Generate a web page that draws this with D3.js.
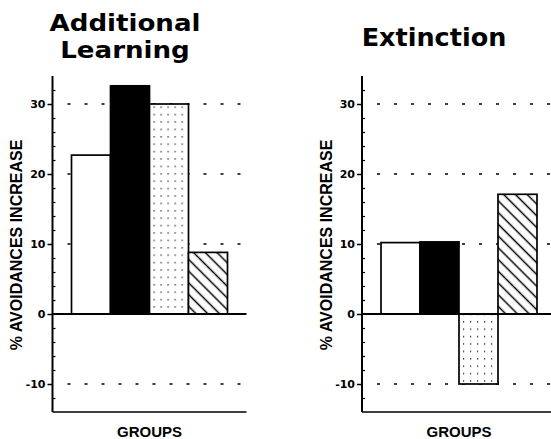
<!DOCTYPE html>
<html>
<head>
<meta charset="utf-8">
<script src="https://cdn.jsdelivr.net/npm/d3@7"></script>
<style>
  html, body { margin: 0; padding: 0; background: #fff; }
  svg { display: block; }
</style>
</head>
<body>
<svg id="chart" width="551" height="439"></svg>
<script>
// ---- data ----
const groups = ["Group 1", "Group 2", "Group 3", "Group 4"];
const additionalLearning = [22.7, 32.6, 30, 8.8];
const extinction = [10.2, 10.3, -10, 17.1];
const majorTicks = [-10, 0, 10, 20, 30];
const minorTicks = [-12, -8, -6, -4, -2, 2, 4, 6, 8, 12, 14, 16, 18, 22, 24, 26, 28, 32];
const gridValues = [-10, 10, 20, 30];
const panelTitles = [["Additional", "Learning"], ["Extinction"]];
const yLabel = "% AVOIDANCES INCREASE";
const xLabel = "GROUPS";

const svg = d3.select("#chart");
const defs = svg.append("defs");

// dotted pattern
const dots = defs.append("pattern").attr("id", "dots")
  .attr("patternUnits", "userSpaceOnUse").attr("width", 7).attr("height", 7.4);
dots.append("rect").attr("width", 7).attr("height", 7.4).attr("fill", "#fff");
dots.append("rect").attr("x", 3).attr("y", 3).attr("width", 1.2).attr("height", 1.2).attr("fill", "#000");

// hatch pattern (\\)
const hatch = defs.append("pattern").attr("id", "hatch")
  .attr("patternUnits", "userSpaceOnUse").attr("width", 8.3).attr("height", 8.3)
  .attr("patternTransform", "rotate(-45)");
hatch.append("rect").attr("width", 8.3).attr("height", 8.3).attr("fill", "#fff");
hatch.append("line").attr("x1", 4.15).attr("y1", 0).attr("x2", 4.15).attr("y2", 8.3)
  .attr("stroke", "#000").attr("stroke-width", 1.5);

const fills = ["#fff", "#000", "url(#dots)", "url(#hatch)"];

const y = d3.scaleLinear().domain([-14, 34]).range([412, 76]);
const x = d3.scaleBand().domain(groups).range([19, 175]).padding(0);
const panelW = 194;

function drawPanel(originX, values, titleLines, titleX, titleBaselines, titleSize, titleStretch, labelX) {
  const g = svg.append("g").attr("transform", `translate(${originX},0)`);

  // dashed gridlines
  g.selectAll("line.grid").data(gridValues).join("line")
    .attr("class", "grid")
    .attr("x1", 15).attr("x2", panelW)
    .attr("y1", d => y(d)).attr("y2", d => y(d))
    .attr("stroke", "#000").attr("stroke-width", 1.3)
    .attr("stroke-dasharray", "3,14");

  // bars
  g.selectAll("rect.bar").data(values).join("rect")
    .attr("class", "bar")
    .attr("x", (d, i) => x(groups[i]))
    .attr("width", x.bandwidth())
    .attr("y", d => y(Math.max(0, d)))
    .attr("height", d => Math.abs(y(d) - y(0)))
    .attr("fill", (d, i) => fills[i])
    .attr("stroke", "#000").attr("stroke-width", 1.7);

  // zero line
  g.append("line").attr("x1", 0).attr("x2", panelW)
    .attr("y1", y(0)).attr("y2", y(0))
    .attr("stroke", "#000").attr("stroke-width", 2);

  // bottom line
  g.append("line").attr("x1", 0).attr("x2", panelW)
    .attr("y1", y(-14)).attr("y2", y(-14))
    .attr("stroke", "#000").attr("stroke-width", 1.6);

  // y axis (major ticks outward)
  const axis = g.append("g").call(
    d3.axisLeft(y).tickValues(majorTicks).tickSize(5).tickPadding(2).tickFormat(d => String(d))
  );
  axis.select(".domain").remove();
  axis.selectAll(".tick line").attr("stroke", "#000").attr("stroke-width", 1.5);
  axis.selectAll(".tick text")
    .attr("font-family", "DejaVu Sans").attr("font-weight", "bold")
    .attr("font-size", 11).attr("fill", "#000");

  // minor ticks inward
  const minor = g.append("g").call(
    d3.axisRight(y).tickValues(minorTicks).tickSize(3).tickFormat("")
  );
  minor.select(".domain").remove();
  minor.selectAll(".tick line").attr("stroke", "#000").attr("stroke-width", 1.2);

  // axis line
  g.append("line").attr("x1", 0).attr("x2", 0)
    .attr("y1", y(34)).attr("y2", y(-14))
    .attr("stroke", "#000").attr("stroke-width", 2);

  // title lines
  titleLines.forEach((t, i) => {
    svg.append("text")
      .attr("transform", `translate(${titleX},${titleBaselines[i]}) scale(${titleStretch},1)`)
      .attr("text-anchor", "middle")
      .attr("font-family", "DejaVu Sans").attr("font-weight", "bold")
      .attr("font-size", titleSize).attr("fill", "#000")
      .text(t);
  });

  // y label
  svg.append("text")
    .attr("transform", `translate(${labelX},245) rotate(-90)`)
    .attr("text-anchor", "middle")
    .attr("font-family", "Liberation Sans").attr("font-weight", "bold")
    .attr("font-size", 16).attr("fill", "#000")
    .text(yLabel);

  // x label
  g.append("text").attr("x", panelW / 2).attr("y", 437)
    .attr("text-anchor", "middle")
    .attr("font-family", "Liberation Sans").attr("font-weight", "bold")
    .attr("font-size", 15).attr("fill", "#000")
    .text(xLabel);
}

drawPanel(52.5, additionalLearning, panelTitles[0], 125, [31, 57.5], 22.5, 1.16, 22);
drawPanel(362, extinction, panelTitles[1], 434, [46], 25.5, 1.0, 332);
</script>
</body>
</html>
